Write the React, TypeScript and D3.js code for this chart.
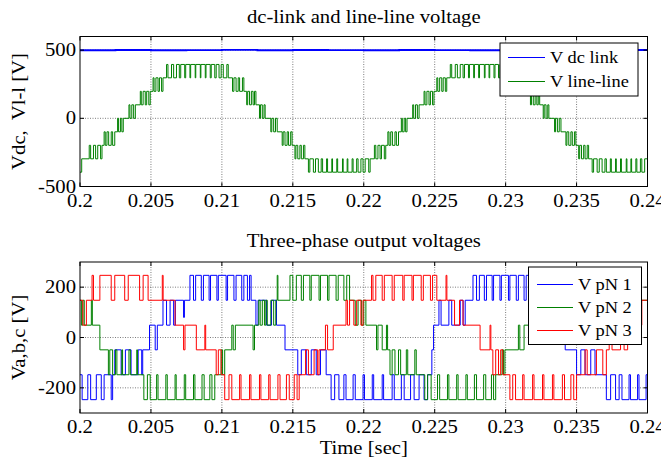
import React, { useEffect } from "react";
import * as d3 from "d3";

// ---------- data ----------
const timeTicks = [0.2, 0.205, 0.21, 0.215, 0.22, 0.225, 0.23, 0.235, 0.24];
const timeTickLabels = ["0.2", "0.205", "0.21", "0.215", "0.22", "0.225", "0.23", "0.235", "0.24"];
const topYTicks = [-500, 0, 500];
const topYLabels = ["-500", "0", "500"];
const botYTicks = [-200, 0, 200];
const botYLabels = ["-200", "0", "200"];

// [ms after 0.2 s, volts]
const dcLink: [number, number][] = [
  [0, 499], [2.5, 501], [5, 499], [7.5, 500], [10, 502], [12.5, 499], [15, 501], [17.5, 500],
  [20, 499], [22.5, 501], [25, 500], [27.5, 499], [30, 501], [32.5, 500], [35, 499], [37.5, 501], [40, 500],
];

const vLineLine: [number, number][] = [
  [0, -395], [0.12, -297],
  [0.65, -198], [0.75, -297], [0.95, -198], [1.1, -297], [1.25, -198], [1.45, -297], [1.55, -198],
  [1.7, -99], [1.78, -198], [1.9, -99], [2.02, -198], [2.2, -99], [2.3, -198], [2.45, -99],
  [2.65, 0], [2.72, -99], [2.85, 0], [2.95, -99], [3.05, 0],
  [3.45, 99], [3.52, 0], [3.65, 99], [3.78, 0], [3.9, 99],
  [4.25, 198], [4.32, 99], [4.45, 198], [4.6, 99], [4.7, 198], [4.85, 99], [4.95, 198],
  [5.15, 297], [5.22, 198], [5.35, 297], [5.5, 198], [5.6, 297], [5.75, 198], [5.85, 297],
  [6.1, 395], [6.2, 297], [6.45, 395], [6.6, 297], [6.8, 395], [7.0, 297], [7.1, 395], [7.38, 297],
  [7.45, 395], [7.75, 297], [7.8, 395], [8.12, 297], [8.16, 395], [8.48, 297], [8.52, 395], [8.83, 297],
  [8.88, 395], [9.18, 297], [9.25, 395], [9.5, 297], [9.6, 395], [9.8, 297], [9.95, 395], [10.1, 297],
  [10.35, 395], [10.45, 297],
  [10.75, 198], [10.85, 297], [11.0, 198], [11.15, 297], [11.25, 198], [11.45, 297], [11.55, 198],
  [11.75, 99], [11.82, 198], [11.95, 99], [12.08, 198], [12.2, 99], [12.3, 198], [12.4, 99],
  [12.65, 0], [12.72, 99], [12.85, 0], [12.97, 99], [13.05, 0],
  [13.45, -99], [13.52, 0], [13.65, -99], [13.78, 0], [13.9, -99],
  [14.25, -198], [14.32, -99], [14.45, -198], [14.6, -99], [14.7, -198], [14.85, -99], [14.95, -198],
  [15.15, -297], [15.22, -198], [15.35, -297], [15.5, -198], [15.6, -297], [15.75, -198], [15.85, -297],
  [16.1, -395], [16.2, -297], [16.45, -395], [16.6, -297], [16.8, -395], [17.0, -297], [17.1, -395], [17.38, -297],
  [17.45, -395], [17.75, -297], [17.8, -395], [18.1, -297], [18.16, -395], [18.5, -297], [18.55, -395], [18.83, -297],
  [18.88, -395], [19.18, -297], [19.25, -395], [19.5, -297], [19.6, -395], [19.8, -297], [19.95, -395], [20.1, -297],
  [20.35, -395], [20.45, -297],
  [20.75, -198], [20.85, -297], [21.0, -198], [21.15, -297], [21.25, -198], [21.45, -297], [21.55, -198],
  [21.7, -99], [21.78, -198], [21.9, -99], [22.02, -198], [22.2, -99], [22.3, -198], [22.45, -99],
  [22.65, 0], [22.72, -99], [22.85, 0], [22.95, -99], [23.05, 0],
  [23.45, 99], [23.52, 0], [23.65, 99], [23.78, 0], [23.9, 99],
  [24.25, 198], [24.32, 99], [24.45, 198], [24.6, 99], [24.7, 198], [24.85, 99], [24.95, 198],
  [25.15, 297], [25.22, 198], [25.35, 297], [25.5, 198], [25.6, 297], [25.75, 198], [25.85, 297],
  [26.1, 395], [26.2, 297], [26.45, 395], [26.6, 297], [26.8, 395], [27.0, 297], [27.1, 395], [27.38, 297],
  [27.45, 395], [27.75, 297], [27.8, 395], [28.1, 297], [28.16, 395], [28.5, 297], [28.55, 395], [28.83, 297],
  [28.88, 395], [29.18, 297], [29.25, 395], [29.5, 297], [29.6, 395], [29.8, 297], [29.95, 395], [30.1, 297],
  [30.35, 395], [30.45, 297],
  [30.75, 198], [30.85, 297], [31.0, 198], [31.15, 297], [31.25, 198], [31.45, 297], [31.55, 198],
  [31.75, 99], [31.82, 198], [31.95, 99], [32.08, 198], [32.2, 99], [32.3, 198], [32.4, 99],
  [32.65, 0], [32.72, 99], [32.85, 0], [32.97, 99], [33.05, 0],
  [33.45, -99], [33.52, 0], [33.65, -99], [33.78, 0], [33.9, -99],
  [34.25, -198], [34.32, -99], [34.45, -198], [34.6, -99], [34.7, -198], [34.85, -99], [34.95, -198],
  [35.15, -297], [35.22, -198], [35.35, -297], [35.5, -198], [35.6, -297], [35.75, -198], [35.85, -297],
  [36.1, -395], [36.2, -297], [36.45, -395], [36.6, -297], [36.8, -395], [37.0, -297], [37.1, -395], [37.38, -297],
  [37.45, -395], [37.75, -297], [37.8, -395], [38.1, -297], [38.16, -395], [38.5, -297], [38.55, -395], [38.83, -297],
  [38.88, -395], [39.18, -297], [39.25, -395], [39.5, -297], [39.6, -395], [39.8, -297], [40, -297],
];

const vpN1: [number, number][] = [
  [0, -148], [0.15, -247], [0.55, -148], [0.75, -247], [1.15, -148], [1.5, -247], [1.7, -148], [2.2, -247], [2.3, -148],
  [2.45, -49], [2.9, -148], [3.2, -49], [3.6, -148], [4.1, -49], [4.35, -148], [4.42, -49],
  [4.9, 49], [5.3, -49], [5.45, 49],
  [5.85, 148], [6.1, 49], [6.35, 148], [6.6, 49], [6.72, 148], [7.3, 80], [7.36, 148],
  [7.75, 247], [8.0, 148], [8.15, 247], [8.55, 148], [8.7, 247], [9.1, 148], [9.2, 247], [9.65, 148], [9.75, 247],
  [10.3, 148], [10.4, 247], [10.85, 148], [11.0, 247], [11.4, 148], [11.55, 247], [11.8, 148], [11.95, 247], [12.06, 148],
  [12.4, 49], [12.55, 148], [13.15, 49], [13.5, 148], [13.85, 49],
  [14.45, -49],
  [15.35, -148], [15.6, -49], [15.95, -148], [16.3, -49], [16.65, -148], [16.95, -49],
  [17.35, -148], [17.7, -247], [17.95, -148], [18.25, -247], [18.6, -148], [18.75, -247], [19.25, -148], [19.4, -247],
  [19.95, -148], [20.05, -247], [20.6, -148], [20.7, -247], [21.3, -148], [21.4, -247], [22.0, -148], [22.15, -247],
  [22.65, -148], [22.85, -247], [23.3, -148], [23.55, -247], [23.9, -148], [24.25, -247], [24.5, -148],
  [24.8, -49], [24.92, 49], [25.3, 148], [25.45, 49], [26.0, 148], [26.2, 49], [26.8, 148], [27.0, 49], [27.15, 148],
  [27.7, 247], [27.95, 148], [28.15, 247], [28.5, 148], [28.65, 247], [29.05, 148], [29.15, 247], [29.6, 148],
  [29.7, 247], [30.2, 148], [30.3, 247], [30.75, 148], [30.9, 247], [31.3, 148], [31.45, 247], [31.7, 148],
  [32.5, 49], [32.8, 148], [33.1, 49], [34.2, -49],
  [35.0, -148], [35.3, -49], [35.6, -148], [36.0, -49], [36.3, -148],
  [37.1, -247], [37.4, -148], [37.75, -247], [38.0, -148], [38.2, -247], [38.7, -148], [38.8, -247], [39.3, -148],
  [39.4, -247], [39.9, -148], [40, -148],
];

const vpN2: [number, number][] = [
  [0, 148], [0.1, 49], [0.2, 148], [0.3, 49], [0.8, 148], [0.87, 49],
  [1.4, -49], [2.0, -148], [2.1, -49], [2.3, -148], [2.5, -49], [2.6, -148], [2.95, -49], [3.0, -148],
  [3.45, -49], [3.55, -148], [4.0, -49], [4.05, -148],
  [4.5, -247], [4.75, -148], [4.95, -247], [5.4, -148], [5.5, -247], [6.05, -148], [6.15, -247], [6.7, -148],
  [6.78, -247], [7.35, -148], [7.45, -247], [8.0, -148], [8.1, -247], [8.6, -148], [8.75, -247], [9.15, -148],
  [9.3, -247], [9.5, -148],
  [9.95, -49], [10.05, -148], [10.2, -49], [10.7, 49], [10.8, -49], [10.95, 49],
  [12.2, -49], [12.3, 49], [12.6, 148], [12.7, 49], [12.85, 148], [13.0, 49], [13.1, 148], [13.2, 49],
  [13.45, 148], [13.65, 49], [13.8, 148], [13.9, 247], [13.95, 148],
  [14.8, 247], [15.0, 148], [15.25, 247], [15.6, 148], [15.75, 247], [16.2, 148], [16.3, 247], [16.85, 148],
  [16.95, 247], [17.45, 148], [17.55, 247], [18.05, 148], [18.2, 247], [18.6, 148], [18.8, 247], [19.0, 148],
  [19.4, 49], [19.6, 148], [19.85, 49], [20.0, 148], [20.15, 49],
  [20.9, -49], [21.0, 49], [21.3, -49], [21.6, 49], [21.68, -49],
  [21.85, -148], [22.0, -49], [22.2, -148], [22.45, -49], [22.6, -148],
  [23.0, -49], [23.1, -148], [23.6, -49], [23.7, -148],
  [24.3, -247], [24.5, -148], [24.75, -247], [25.2, -148], [25.35, -247], [25.9, -148], [26.0, -247], [26.55, -148],
  [26.65, -247], [27.2, -148], [27.3, -247], [27.8, -148], [27.95, -247], [28.45, -148], [28.6, -247], [29.0, -148],
  [29.15, -247], [29.3, -148],
  [29.75, -49], [29.85, -148], [29.95, -49], [30.9, 49], [31.0, -49], [31.3, 49],
  [32.2, 148], [32.4, 49], [32.8, 148], [33.0, 49], [33.3, 148], [34.0, 247], [34.2, 148],
  [34.8, 247], [35.0, 148], [35.3, 247], [35.7, 148], [35.8, 247], [36.3, 148], [36.4, 247], [36.9, 148],
  [37.0, 247], [37.5, 148], [37.6, 247], [38.1, 148], [38.25, 247], [38.7, 148], [38.9, 247], [39.1, 148], [40, 148],
];

const vpN3: [number, number][] = [
  [0, 148], [0.2, 49], [0.45, 148],
  [0.85, 247], [0.95, 148], [1.4, 247], [2.2, 148], [2.45, 247], [3.15, 148], [3.4, 247], [4.2, 148], [4.45, 247], [4.8, 148],
  [5.8, 247], [5.86, 148],
  [6.7, 49], [7.3, -49], [7.4, 49],
  [8.2, -49], [8.8, 49], [8.86, -49],
  [9.6, -148], [9.75, -49], [9.95, -148],
  [10.2, -247], [10.5, -148], [10.7, -247], [11.25, -148], [11.35, -247], [11.95, -148], [12.05, -247], [12.65, -148],
  [12.75, -247], [13.3, -148], [13.4, -247], [13.95, -148], [14.1, -247], [14.55, -148], [14.75, -247], [15.1, -148],
  [15.3, -247], [15.45, -148],
  [15.9, -49], [16.1, -148], [16.5, -49], [16.75, -148], [16.85, -49],
  [17.3, 49], [17.45, -49], [17.85, 49],
  [18.75, 148], [18.85, 49], [19.0, 148], [19.3, 49], [19.5, 148], [19.8, 49], [19.95, 148],
  [20.55, 247], [20.65, 148], [20.85, 247], [21.3, 148], [21.45, 247], [22.0, 148], [22.15, 247], [22.75, 148],
  [22.85, 247], [23.4, 148], [23.5, 247], [24.05, 148], [24.2, 247], [24.7, 148], [24.85, 247], [25.15, 148],
  [25.8, 247], [25.86, 148], [26.4, 49], [26.75, 148], [27.0, 49],
  [28.2, -49], [28.9, 49], [28.96, -49],
  [29.1, -148], [29.3, -49], [29.5, -148], [29.65, -49], [29.8, -148],
  [30.3, -247], [30.5, -148], [30.7, -247], [31.2, -148], [31.3, -247], [31.9, -148], [32.0, -247], [32.6, -148],
  [32.7, -247], [33.3, -148], [33.4, -247], [34.0, -148], [34.15, -247], [34.6, -148], [34.8, -247], [35.0, -148],
  [35.6, -49], [35.75, -148], [36.4, -49], [36.85, -148],
  [37.1, -49], [37.3, 49], [37.5, -49], [38.1, 49], [38.35, -49], [38.6, 49], [39.2, 148], [39.35, 49], [39.6, 148], [40, 148],
];

const topSeries = [
  { name: "V dc link", color: "#0000ff", data: dcLink, width: 1.8 },
  { name: "V line-line", color: "#008000", data: vLineLine, width: 1 },
];
const botSeries = [
  { name: "V pN 1", color: "#0000ff", data: vpN1, width: 1 },
  { name: "V pN 2", color: "#008000", data: vpN2, width: 1 },
  { name: "V pN 3", color: "#ff0000", data: vpN3, width: 1 },
];

// ---------- layout ----------
const W = 661;
const H = 462;
const FONT = "'Liberation Serif', 'Times New Roman', serif";
const SX = 1.15;
const LEFT = 80;
const RIGHT = 647.5;

function Txt({ x, y, anchor = "middle", size = 18, rotate = 0, children }: any) {
  return (
    <text
      transform={`translate(${x},${y}) rotate(${rotate}) scale(${SX},1)`}
      textAnchor={anchor}
      fontSize={size}
      fontFamily={FONT}
      fill="#000"
      style={{ whiteSpace: "pre" }}
    >
      {children}
    </text>
  );
}

function Panel({ id, top, bottom, yDomain, yTicks, yLabels, series, title, titleY, yLabel, legend }: any) {
  const x = d3.scaleLinear().domain([0.2, 0.24]).range([LEFT, RIGHT]);
  const y = d3.scaleLinear().domain(yDomain).range([bottom, top]);
  const line = d3
    .line<[number, number]>()
    .x((d) => x(0.2 + d[0] / 1000))
    .y((d) => y(d[1]))
    .curve(d3.curveStepAfter);
  const tick = 4;
  const lb = legend;
  return (
    <g>
      <defs>
        <clipPath id={id}>
          <rect x={LEFT} y={top} width={RIGHT - LEFT} height={bottom - top} />
        </clipPath>
      </defs>
      <rect x={LEFT} y={top} width={RIGHT - LEFT} height={bottom - top} fill="#fff" />
      {/* grid */}
      {timeTicks.slice(1, -1).map((t) => (
        <line key={"gx" + t} x1={x(t)} x2={x(t)} y1={top} y2={bottom} stroke="#6e6e6e" strokeWidth={0.9} strokeDasharray="1,1.5" />
      ))}
      {yTicks.map((v: number) => (
        <line key={"gy" + v} x1={LEFT} x2={RIGHT} y1={y(v)} y2={y(v)} stroke="#6e6e6e" strokeWidth={0.9} strokeDasharray="1,1.5" />
      ))}
      {/* series */}
      <g clipPath={`url(#${id})`}>
        {series.map((s: any) => (
          <path key={s.name} d={line(s.data) || ""} fill="none" stroke={s.color} strokeWidth={s.width} strokeLinejoin="miter" />
        ))}
      </g>
      {/* frame + ticks */}
      <rect x={LEFT} y={top} width={RIGHT - LEFT} height={bottom - top} fill="none" stroke="#000" strokeWidth={1} />
      {timeTicks.map((t) => (
        <g key={"tx" + t}>
          <line x1={x(t)} x2={x(t)} y1={bottom} y2={bottom - tick} stroke="#000" />
          <line x1={x(t)} x2={x(t)} y1={top} y2={top + tick} stroke="#000" />
        </g>
      ))}
      {yTicks.map((v: number) => (
        <g key={"ty" + v}>
          <line x1={LEFT} x2={LEFT + tick} y1={y(v)} y2={y(v)} stroke="#000" />
          <line x1={RIGHT} x2={RIGHT - tick} y1={y(v)} y2={y(v)} stroke="#000" />
        </g>
      ))}
      {/* labels */}
      {timeTicks.map((t, i) => (
        <Txt key={"lx" + t} x={x(t)} y={bottom + 20}>
          {timeTickLabels[i]}
        </Txt>
      ))}
      {yTicks.map((v: number, i: number) => (
        <Txt key={"ly" + v} x={76} y={y(v) + 6} anchor="end">
          {yLabels[i]}
        </Txt>
      ))}
      <Txt x={(LEFT + RIGHT) / 2} y={titleY}>
        {title}
      </Txt>
      <Txt x={25} y={(top + bottom) / 2} rotate={-90}>
        {yLabel}
      </Txt>
      {/* legend */}
      <rect x={lb.x0} y={lb.y0} width={lb.x1 - lb.x0} height={lb.y1 - lb.y0} fill="#fff" stroke="#000" strokeWidth={1} />
      {series.map((s: any, i: number) => (
        <g key={"lg" + s.name}>
          <line x1={lb.lx0} x2={lb.lx1} y1={lb.rows[i]} y2={lb.rows[i]} stroke={s.color} strokeWidth={1} />
          <Txt x={lb.tx} y={lb.rows[i] + 5.5} anchor="start" size={16}>
            {s.name}
          </Txt>
        </g>
      ))}
    </g>
  );
}

export default function App() {
  useEffect(() => {
    document.body.style.margin = "0";
  }, []);
  return (
    <svg width={W} height={H} style={{ position: "absolute", left: 0, top: 0, background: "#fff" }}>
      <rect x={0} y={0} width={W} height={H} fill="#fff" />
      <Panel
        id="clipTop"
        top={36.5}
        bottom={186.5}
        yDomain={[-500, 600]}
        yTicks={topYTicks}
        yLabels={topYLabels}
        series={topSeries}
        title="dc-link and line-line voltage"
        titleY={23}
        yLabel={"Vdc,  Vl-l [V]"}
        legend={{ x0: 500, x1: 638, y0: 43, y1: 96, lx0: 508, lx1: 545, tx: 550, rows: [57.5, 81.5] }}
      />
      <Panel
        id="clipBot"
        top={262}
        bottom={413}
        yDomain={[-300, 300]}
        yTicks={botYTicks}
        yLabels={botYLabels}
        series={botSeries}
        title="Three-phase output voltages"
        titleY={247}
        yLabel="Va,b,c [V]"
        legend={{ x0: 528.5, x1: 641.5, y0: 267, y1: 344.5, lx0: 537, lx1: 573, tx: 578, rows: [284.5, 307.5, 330.5] }}
      />
      <Txt x={(LEFT + RIGHT) / 2} y={454}>
        Time [sec]
      </Txt>
    </svg>
  );
}
